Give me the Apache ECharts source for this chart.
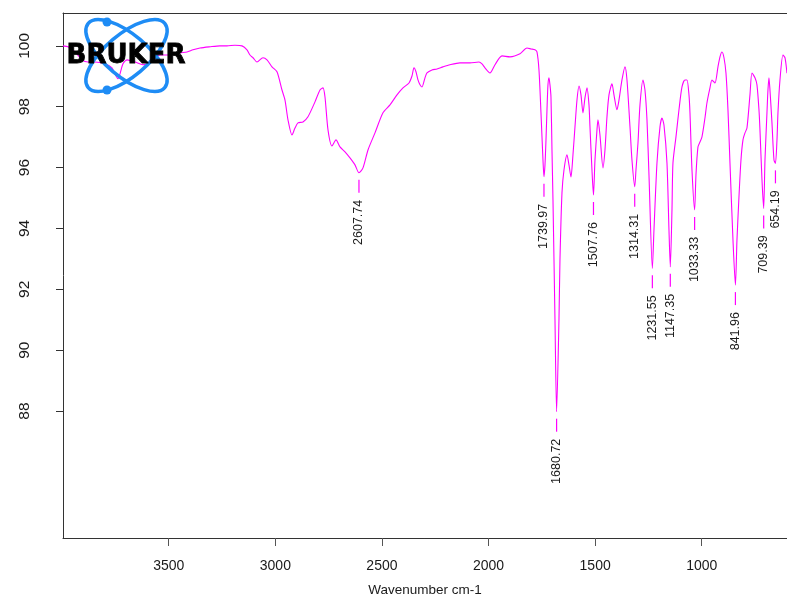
<!DOCTYPE html>
<html>
<head>
<meta charset="utf-8">
<script src="https://cdn.jsdelivr.net/npm/echarts@6/dist/echarts.min.js"></script>
<style>
html,body{margin:0;padding:0;background:#fff;}
#chart{width:787px;height:598px;}
</style>
</head>
<body>
<div id="chart"></div>
<script>
// Spectrum (wavenumber cm-1, transmittance %)
const wavenumber = [
3996,3972.5,3939.7,3906.9,3878.7,3845.9,3799.0,3766.2,3747.4,3738.0,3728.6,3714.6,3695.8,3658.3,3620.8,3587.9,
3541.0,3494.1,3447.2,3414.4,3386.2,3353.4,3306.5,3259.6,3226.8,3189.3,3156.4,3133.0,3118.9,3104.8,3086.1,3057.9,
3039.2,3015.7,2992.3,2968.8,2954.7,2940.7,2921.9,2907.8,2893.8,2870.3,2846.9,2814.0,2790.6,2776.5,2767.1,2753.0,
2734.3,2715.5,2696.8,2673.3,2649.9,2626.4,2607.74,2588.9,2565.4,2532.6,2495.1,2462.2,2429.4,2401.3,2373.1,2359.1,
2349.7,2340.3,2330.9,2321.5,2312.1,2298.1,2288.7,2265.2,2241.8,2213.6,2180.8,2133.9,2087.0,2044.8,2030.7,2016.7,
1993.2,1969.7,1936.9,1899.4,1852.5,1819.7,1800.9,1782.1,1772.8,1763.4,1754.0,1744.6,1739.97,1735.2,1730.5,1725.8,
1721.2,1716.5,1711.8,1707.1,1702.4,1697.7,1688.3,1680.72,1669.6,1664.9,1655.5,1646.1,1632.0,1622.7,1613.3,1603.9,
1594.5,1585.1,1575.8,1566.4,1557.0,1547.6,1538.2,1528.8,1524.2,1514.8,1507.76,1500.7,1491.3,1486.6,1477.3,1463.2,
1453.8,1444.4,1435.0,1421.0,1411.6,1397.5,1388.1,1374.1,1360.0,1350.6,1336.5,1327.2,1314.31,1308.4,1299.0,1289.6,
1275.6,1266.2,1256.8,1247.4,1231.55,1224.0,1209.9,1195.8,1186.4,1177.1,1163.0,1153.6,1147.35,1139.5,1134.9,1120.8,
1106.7,1092.6,1078.6,1069.2,1059.8,1055.1,1045.7,1033.33,1027.0,1017.6,1008.2,998.8,984.8,975.4,961.3,951.9,
937.9,923.8,914.4,905.0,895.6,886.3,876.9,867.5,853.4,841.96,834.7,825.3,815.9,806.5,797.1,787.8,
773.7,764.3,750.2,740.9,731.5,726.8,717.4,709.39,703.3,694.0,689.3,684.6,679.9,670.5,661.1,654.19,
647.0,642.4,633.0,618.9,609.5,600.1
];
const transmittance = [
100.00,99.97,99.80,99.54,99.47,99.47,99.41,99.28,99.01,98.92,99.08,99.41,99.54,99.47,99.38,99.47,
99.70,99.70,99.77,99.80,99.87,99.93,99.97,100.00,100.00,100.02,100.00,99.87,99.70,99.61,99.47,99.61,
99.54,99.31,99.15,98.55,98.22,97.57,97.07,97.30,97.47,97.50,97.67,98.16,98.55,98.62,98.32,97.24,
96.71,96.91,96.68,96.52,96.32,96.09,95.83,95.99,96.58,97.14,97.80,98.06,98.39,98.62,98.78,99.01,
99.28,99.15,98.88,98.72,98.65,98.95,99.11,99.21,99.24,99.31,99.38,99.44,99.44,99.47,99.41,99.28,
99.11,99.38,99.67,99.64,99.74,99.93,99.90,99.87,99.80,99.21,97.80,96.25,95.70,96.09,96.91,97.90,
98.72,98.95,98.72,98.32,96.58,94.94,91.00,87.98,91.00,92.97,95.17,95.92,96.42,96.09,95.69,96.42,
97.34,98.22,98.68,98.39,97.80,98.29,98.62,98.06,97.34,95.92,95.10,96.25,97.24,97.57,97.07,95.99,
96.58,97.67,98.39,98.75,98.39,97.90,98.22,98.88,99.31,98.88,97.34,96.25,95.37,95.92,96.81,98.06,
98.88,98.55,97.57,95.76,92.69,93.95,96.15,97.34,97.63,97.40,96.15,93.95,92.74,94.61,96.15,97.01,
97.90,98.65,98.88,98.88,98.39,97.80,95.92,94.61,95.76,96.68,96.84,97.01,97.63,98.13,98.62,98.88,
98.78,99.31,99.64,99.80,99.61,99.11,97.90,96.15,93.62,92.14,93.62,95.04,96.25,96.91,97.14,97.30,
98.39,99.11,98.95,98.72,97.90,97.24,95.60,94.66,96.25,97.80,98.55,98.95,98.55,97.47,96.25,96.14,
96.91,97.80,98.88,99.70,99.61,99.10
];
// Labelled peaks
const peakWavenumber = [2607.74,1739.97,1680.72,1507.76,1314.31,1231.55,1147.35,1033.33,841.96,709.39,654.19];
const peakTransmittance = [95.83,95.70,87.98,95.10,95.37,92.69,92.74,94.61,92.14,94.66,96.14];
// Axis ticks
const xTicks = [1000,1500,2000,2500,3000,3500];
const yTicks = [88,90,92,94,96,98,100];
const xTitle = 'Wavenumber cm-1';

const spectrum = wavenumber.map((w, i) => [w, transmittance[i]]);
const peaks = peakWavenumber.map((w, i) => [w, peakTransmittance[i]]);

const sans = '"Liberation Sans", Arial, sans-serif';
const axisCol = '#333';
const chart = echarts.init(document.getElementById('chart'), null, {renderer: 'canvas'});

chart.setOption({
  animation: false,
  backgroundColor: '#fff',
  grid: {left: 63, right: 0, top: 13, bottom: 60, containLabel: false, outerBoundsMode: 'none'},
  xAxis: [{
    type: 'value', inverse: true, min: 600, max: 3996, position: 'bottom',
    axisLine: {show: true, onZero: false, lineStyle: {color: axisCol, width: 1}},
    axisTick: {show: true, customValues: xTicks, length: 8, lineStyle: {color: '#555'}},
    axisLabel: {show: true, customValues: xTicks, margin: 28, color: '#1a1a1a', fontSize: 14, fontFamily: sans,
                verticalAlign: 'middle', formatter: v => String(v)},
    splitLine: {show: false},
    name: xTitle, nameLocation: 'middle', nameGap: 52,
    nameTextStyle: {color: '#1a1a1a', fontSize: 13.5, fontFamily: sans, verticalAlign: 'middle'}
  }, {
    type: 'value', inverse: true, min: 600, max: 3996, position: 'top',
    axisLine: {show: true, onZero: false, lineStyle: {color: axisCol, width: 1}},
    axisTick: {show: false}, axisLabel: {show: false}, splitLine: {show: false}
  }],
  yAxis: {
    type: 'value', min: 83.83, max: 101.08,
    axisLine: {show: true, onZero: false, lineStyle: {color: axisCol, width: 1}},
    axisTick: {show: true, customValues: yTicks, length: 7, lineStyle: {color: '#333'}},
    axisLabel: {show: true, customValues: yTicks, rotate: 90, margin: 30, color: '#1a1a1a', fontSize: 15.5, fontFamily: sans},
    splitLine: {show: false}
  },
  series: [{
    type: 'line', data: spectrum, xAxisIndex: 0, showSymbol: false, symbol: 'none',
    smooth: 0.25, lineStyle: {color: '#ff00ff', width: 1.1}, silent: true, z: 2
  }, {
    type: 'custom', data: peaks, xAxisIndex: 0, silent: true, z: 3, clip: false,
    renderItem: function (params, api) {
      const p = api.coord([api.value(0), api.value(1)]);
      const txt = api.value(0).toFixed(2);
      return {
        type: 'group',
        children: [{
          type: 'line',
          shape: {x1: p[0], y1: p[1] + 7, x2: p[0], y2: p[1] + 20},
          style: {stroke: '#ff00ff', lineWidth: 1.2}
        }, {
          type: 'text', x: p[0], y: p[1] + 27, rotation: Math.PI / 2,
          style: {text: txt, align: 'right', verticalAlign: 'middle', fill: '#1a1a1a',
                  font: '12.5px "Liberation Sans", Arial, sans-serif'}
        }]
      };
    }
  }],
  graphic: [
    {type: 'ellipse', x: 126.5, y: 55.5, rotation: 0.70, z: 100,
     shape: {cx: 0, cy: 0, rx: 50, ry: 21}, style: {fill: 'none', stroke: '#1e8cf5', lineWidth: 3.5}},
    {type: 'ellipse', x: 126.5, y: 55.5, rotation: -0.70, z: 100,
     shape: {cx: 0, cy: 0, rx: 50, ry: 21}, style: {fill: 'none', stroke: '#1e8cf5', lineWidth: 3.5}},
    {type: 'circle', z: 101, shape: {cx: 107, cy: 22, r: 4.5}, style: {fill: '#1e8cf5'}},
    {type: 'circle', z: 101, shape: {cx: 107, cy: 90, r: 4.5}, style: {fill: '#1e8cf5'}},
    {type: 'text', x: 126, y: 56, z: 102,
     style: {text: 'BRUKER', fill: '#000', align: 'center', verticalAlign: 'middle',
             font: 'bold 26px "DejaVu Sans", sans-serif', stroke: '#000', lineWidth: 0.8}}
  ]
});
</script>
</body>
</html>
